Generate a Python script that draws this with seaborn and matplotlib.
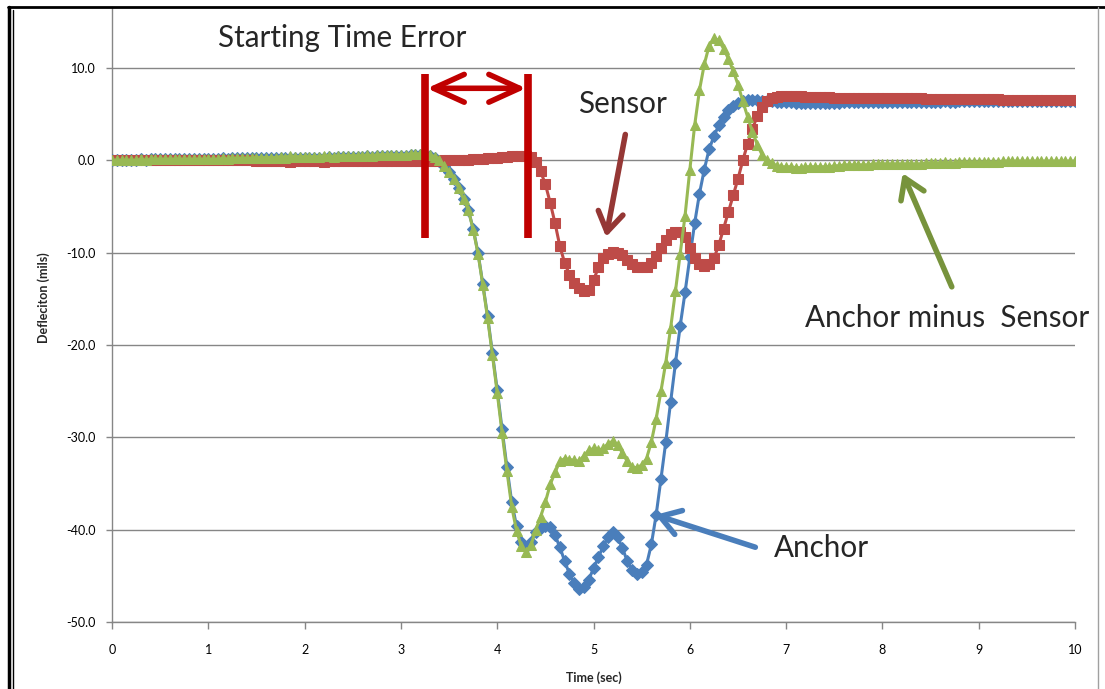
import numpy as np
import pandas as pd
import matplotlib.pyplot as plt
import seaborn as sns
from matplotlib.lines import Line2D
from matplotlib.ticker import FormatStrFormatter

# Time axis: samples every 0.05 s from 0 to 10 s
time_s = np.round(np.arange(201) * 0.05, 2)

# Anchor deflection (mils), one row per second
anchor = [
    0.0, 0.0, 0.0, 0.0, 0.0, 0.0, 0.1, 0.0, 0.1, 0.1, 0.1, 0.1, 0.1, 0.1, 0.1, 0.1, 0.1, 0.1, 0.1, 0.1,
    0.1, 0.1, 0.1, 0.2, 0.1, 0.2, 0.2, 0.2, 0.2, 0.2, 0.2, 0.2, 0.2, 0.2, 0.2, 0.3, 0.2, 0.3, 0.3, 0.3,
    0.3, 0.3, 0.3, 0.3, 0.3, 0.4, 0.3, 0.4, 0.4, 0.4, 0.4, 0.4, 0.4, 0.5, 0.4, 0.5, 0.5, 0.5, 0.5, 0.5,
    0.5, 0.5, 0.6, 0.6, 0.6, 0.6, 0.5, 0.3, -0.1, -0.6, -1.3, -2.0, -3.0, -4.2, -5.4, -7.4, -10.0, -13.4, -16.9, -20.9,
    -24.9, -29.1, -33.2, -37.0, -39.6, -41.3, -41.9, -41.3, -40.2, -39.8, -39.6, -39.7, -40.6, -41.9, -43.4, -44.8, -45.8, -46.4, -46.2, -45.4,
    -44.2, -43.0, -41.8, -40.8, -40.3, -40.8, -42.0, -43.4, -44.4, -44.8, -44.6, -43.8, -41.6, -38.4, -34.5, -30.5, -26.2, -22.0, -17.9, -14.3,
    -10.5, -6.8, -3.6, -1.0, 1.2, 2.6, 3.8, 4.7, 5.4, 5.9, 6.2, 6.4, 6.5, 6.5, 6.5, 6.4, 6.4, 6.4, 6.3, 6.3,
    6.3, 6.3, 6.2, 6.2, 6.2, 6.2, 6.2, 6.2, 6.2, 6.2, 6.2, 6.2, 6.3, 6.3, 6.3, 6.3, 6.3, 6.3, 6.3, 6.3,
    6.3, 6.3, 6.3, 6.3, 6.3, 6.3, 6.3, 6.3, 6.3, 6.3, 6.3, 6.3, 6.3, 6.4, 6.3, 6.3, 6.4, 6.4, 6.4, 6.4,
    6.4, 6.4, 6.4, 6.4, 6.4, 6.4, 6.4, 6.4, 6.4, 6.4, 6.4, 6.4, 6.4, 6.4, 6.4, 6.4, 6.4, 6.4, 6.4, 6.4,
    6.4,
]

# Sensor deflection (mils)
sensor = [
    0.0, 0.0, 0.0, 0.0, 0.0, 0.0, 0.0, 0.0, 0.0, 0.0, 0.0, 0.0, 0.0, 0.0, 0.0, 0.0, 0.0, 0.0, 0.0, 0.0,
    0.0, 0.0, 0.0, 0.0, 0.0, 0.0, 0.0, 0.0, 0.0, 0.0, -0.1, -0.1, -0.1, -0.1, -0.1, -0.1, -0.1, -0.2, -0.1, -0.1,
    -0.1, -0.1, -0.1, -0.1, -0.2, -0.1, -0.1, -0.1, -0.1, -0.1, -0.1, -0.1, -0.1, -0.1, -0.1, -0.1, -0.1, -0.1, -0.1, -0.1,
    -0.1, -0.1, -0.1, -0.1, -0.1, -0.1, -0.1, -0.1, -0.1, 0.0, 0.0, 0.0, 0.0, 0.0, 0.0, 0.1, 0.1, 0.1, 0.2, 0.2,
    0.3, 0.4, 0.4, 0.5, 0.5, 0.5, 0.5, 0.4, -0.2, -1.2, -2.6, -4.6, -6.8, -9.3, -11.1, -12.4, -13.3, -13.8, -14.2, -14.0,
    -13.0, -11.6, -10.6, -10.1, -9.9, -10.0, -10.3, -10.8, -11.2, -11.5, -11.6, -11.5, -11.1, -10.4, -9.5, -8.6, -8.0, -7.8, -7.8, -8.3,
    -9.5, -10.6, -11.2, -11.4, -11.2, -10.6, -9.2, -7.4, -5.6, -3.8, -2.0, 0.0, 1.8, 3.4, 4.8, 5.8, 6.4, 6.7, 6.9, 7.0,
    7.0, 7.0, 7.0, 7.0, 6.9, 6.9, 6.9, 6.9, 6.9, 6.9, 6.8, 6.8, 6.8, 6.8, 6.8, 6.8, 6.8, 6.8, 6.7, 6.7,
    6.7, 6.7, 6.7, 6.7, 6.7, 6.7, 6.7, 6.7, 6.7, 6.6, 6.6, 6.6, 6.6, 6.6, 6.6, 6.6, 6.6, 6.6, 6.6, 6.6,
    6.6, 6.6, 6.6, 6.6, 6.6, 6.5, 6.5, 6.5, 6.5, 6.5, 6.5, 6.5, 6.5, 6.5, 6.5, 6.5, 6.5, 6.5, 6.5, 6.5,
    6.5,
]

y_ticks = [-50, -40, -30, -20, -10, 0, 10]
x_ticks = list(range(0, 11))

df = pd.DataFrame({'time': time_s, 'anchor': anchor, 'sensor': sensor})
df['diff'] = df['anchor'] - df['sensor']

BLUE = '#4A7EBB'
RED = '#BE4B48'
GREEN = '#98B954'
GRID = '#868686'

sns.set_style('white')
plt.rcParams['font.family'] = ['Lato', 'DejaVu Sans']
plt.rcParams['axes.unicode_minus'] = False

fig = plt.figure(figsize=(11.05, 6.89), dpi=100)
ax = fig.add_axes([0.1014, 0.0972, 0.8715, 0.8926])

sns.lineplot(data=df, x='time', y='anchor', ax=ax, color=BLUE, linewidth=2.2,
             marker='D', markersize=6, markeredgecolor=BLUE, zorder=3)
sns.lineplot(data=df, x='time', y='sensor', ax=ax, color=RED, linewidth=2.2,
             marker='s', markersize=7.5, markeredgecolor=RED, zorder=4)
sns.lineplot(data=df, x='time', y='diff', ax=ax, color=GREEN, linewidth=2.2,
             marker='^', markersize=7.5, markeredgecolor=GREEN, zorder=5)

ax.set_xlim(0, 10)
ax.set_ylim(-50, 16.6)
ax.set_xticks(x_ticks)
ax.set_yticks(y_ticks)
ax.yaxis.set_major_formatter(FormatStrFormatter('%.1f'))
ax.yaxis.grid(True, color=GRID, linewidth=1)
ax.xaxis.grid(False)
ax.set_axisbelow(True)

sns.despine(ax=ax)
for side in ['left', 'bottom']:
    ax.spines[side].set_color(GRID)
    ax.spines[side].set_linewidth(1)
ax.tick_params(axis='y', direction='out', length=4, width=1, color=GRID, pad=8,
               labelsize=9, labelcolor='black', left=True)
ax.tick_params(axis='x', direction='out', length=5, width=1, color=GRID, pad=11,
               labelsize=9, labelcolor='black', bottom=True)

ax.set_xlabel('Time (sec)', fontsize=9, fontweight='bold')
ax.set_ylabel('Defleciton (mils)', fontsize=9, fontweight='bold')
ax.xaxis.set_label_coords(0.5, -0.0797)
ax.yaxis.set_label_coords(-0.0644, 0.528)

# Starting time error markers
ax.vlines([3.25, 4.32], -8.4, 9.4, color='#C00000', linewidth=5.5, zorder=6)
ax.annotate('', xy=(3.27, 7.8), xytext=(4.30, 7.8),
            arrowprops=dict(arrowstyle='<->, head_length=1.1, head_width=0.5',
                            mutation_scale=20, lw=4, color='#C00000',
                            shrinkA=0, shrinkB=0), zorder=6)
ax.text(2.39, 13.2, 'Starting Time Error', fontsize=21.3, ha='center', va='center')

# Callouts
ax.text(5.30, 6.1, 'Sensor', fontsize=21.3, ha='center', va='center')
ax.annotate('', xy=(5.13, -8.3), xytext=(5.33, 2.8),
            arrowprops=dict(arrowstyle='->, head_length=0.7, head_width=0.45',
                            mutation_scale=20, lw=4, color='#953735',
                            shrinkA=0, shrinkB=0), zorder=6)

ax.text(8.67, -17.1, 'Anchor minus  Sensor', fontsize=21.3, ha='center', va='center')
ax.annotate('', xy=(8.21, -1.4), xytext=(8.72, -13.7),
            arrowprops=dict(arrowstyle='->, head_length=0.7, head_width=0.45',
                            mutation_scale=20, lw=4, color='#77933C',
                            shrinkA=0, shrinkB=0), zorder=6)

ax.text(7.37, -42.0, 'Anchor', fontsize=21.3, ha='center', va='center')
ax.annotate('', xy=(5.64, -38.4), xytext=(6.68, -41.9),
            arrowprops=dict(arrowstyle='->, head_length=0.7, head_width=0.45',
                            mutation_scale=20, lw=4, color=BLUE,
                            shrinkA=0, shrinkB=0), zorder=6)

# Page frame around the chart
fig.add_artist(Line2D([9 / 1105, 9 / 1105], [0, 1 - 7 / 689], color='black', lw=2.5))
fig.add_artist(Line2D([13 / 1105, 13 / 1105], [0, 1 - 10 / 689], color='black', lw=1))
fig.add_artist(Line2D([8 / 1105, 1], [1 - 7 / 689, 1 - 7 / 689], color='black', lw=2))
fig.add_artist(Line2D([1098 / 1105, 1098 / 1105], [0, 1 - 7 / 689], color='#A0A0A0', lw=1))

fig.savefig('out.png', dpi=100)
